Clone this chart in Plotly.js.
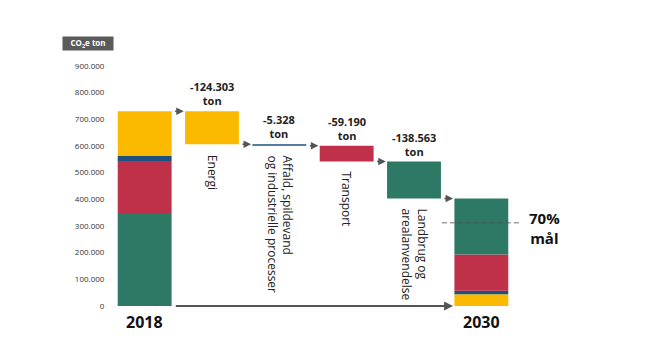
<!DOCTYPE html>
<html>
<head>
<meta charset="utf-8">
<script src="https://cdn.plot.ly/plotly-3.0.1.min.js"></script>
<style>html,body{margin:0;padding:0;background:#fff;}#chart{width:650px;height:360px;}</style>
</head>
<body>
<div id="chart"></div>
<script>
// ---- data ----
const sectorLabels = ['Energi', 'Affald, spildevand<br>og industrielle processer', 'Transport', 'Landbrug og<br>arealanvendelse'];
const emissions2018 = [168000, 18500, 195000, 349000];
const reductions = [124303, 5328, 59190, 138563];
const yearLabels = ['2018', '2030'];
const targetValue = 312000;
const targetLabel = '70%<br>mål';
const unitLabel = 'CO<sub>2</sub>e ton';
const tickValues = [0, 100000, 200000, 300000, 400000, 500000, 600000, 700000, 800000, 900000];

// ---- styles ----
const colors = ['#FBBA00', '#1C5180', '#BE3149', '#2E7866'];
const FONT = '"Open Sans", "Noto Sans", sans-serif';
const ARROW = '#555555';

// ---- derived ----
const emissions2030 = emissions2018.map((v, i) => v - reductions[i]);
const total2018 = emissions2018.reduce((a, b) => a + b, 0);
const order2018 = [3, 2, 1, 0]; // bottom-up
const order2030 = [0, 1, 2, 3];
const base2018 = [], base2030 = [], floatBase = [];
let acc = 0;
order2018.forEach(i => { base2018[i] = acc; acc += emissions2018[i]; });
acc = 0;
order2030.forEach(i => { base2030[i] = acc; acc += emissions2030[i]; });
let level = total2018;
const levelsTop = [];
reductions.forEach((r, i) => { levelsTop[i] = level; floatBase[i] = level - r; level -= r; });
const lastX = sectorLabels.length + 1;

const fmt = n => n.toString().replace(/\B(?=(\d{3})+(?!\d))/g, '.');

const traces = sectorLabels.map((name, i) => ({
  type: 'bar',
  x: [0, i + 1, lastX],
  y: [emissions2018[i], reductions[i], emissions2030[i]],
  base: [base2018[i], floatBase[i], base2030[i]],
  width: 0.8,
  marker: {color: colors[i], line: {width: 0}},
  hoverinfo: 'skip',
  showlegend: false
}));

const annotations = [];
// value labels & category labels
sectorLabels.forEach((lab, i) => {
  annotations.push({
    x: i + 1, y: levelsTop[i], xref: 'x', yref: 'y',
    text: '<b>-' + fmt(reductions[i]) + '<br>ton</b>',
    showarrow: false, yanchor: 'bottom', xanchor: 'center', yshift: 1,
    font: {family: FONT, size: 11, color: '#222'}
  });
  annotations.push({
    x: i + 1, y: floatBase[i], xref: 'x', yref: 'y',
    text: lab, textangle: 90, align: 'left',
    showarrow: false, yanchor: 'top', xanchor: 'center', yshift: -8,
    font: {family: FONT, size: 12, color: '#222'}
  });
});
// year labels
[0, lastX].forEach((xv, k) => {
  annotations.push({
    x: xv, y: 0, xref: 'x', yref: 'y', text: '<b>' + yearLabels[k] + '</b>',
    showarrow: false, yanchor: 'top', xanchor: 'center', yshift: -3,
    font: {family: FONT, size: 16, color: '#111'}
  });
});
// step arrows
const arrowLevels = [total2018].concat(floatBase);
arrowLevels.forEach((lv, k) => {
  annotations.push({
    x: k + 0.58, y: lv, ax: k + 0.43, ay: lv, axref: 'x', ayref: 'y', xref: 'x', yref: 'y',
    text: '', showarrow: true, arrowhead: 2, arrowsize: 1, arrowwidth: 1.5, arrowcolor: ARROW, standoff: 0, startstandoff: 0
  });
});
// long bottom arrow
annotations.push({
  x: lastX - 0.42, y: 0, ax: 0.44, ay: 0, axref: 'x', ayref: 'y', xref: 'x', yref: 'y',
  text: '', showarrow: true, arrowhead: 2, arrowsize: 1, arrowwidth: 1.8, arrowcolor: ARROW, standoff: 0
});
// target label
annotations.push({
  x: 1.03, y: targetValue, xref: 'paper', yref: 'y', text: '<b>' + targetLabel + '</b>',
  showarrow: false, xanchor: 'left', yanchor: 'middle', yshift: -5, align: 'center',
  font: {family: FONT, size: 15, color: '#111'}
});
// unit box
annotations.push({
  x: -0.057, y: 1.094, xref: 'paper', yref: 'paper', text: '<b>' + unitLabel + '</b>',
  showarrow: false, xanchor: 'center', yanchor: 'middle', width: 50, height: 13,
  bgcolor: '#5a5a5a', borderpad: 0,
  font: {family: FONT, size: 8, color: '#fff'}
});

const layout = {
  width: 650, height: 360,
  margin: {l: 111, r: 135, t: 66, b: 54},
  paper_bgcolor: '#fff', plot_bgcolor: '#fff',
  barmode: 'overlay',
  separators: ',.',
  showlegend: false,
  xaxis: {range: [-0.5, lastX + 0.5], visible: false, fixedrange: true},
  yaxis: {
    range: [0, 900000], tickvals: tickValues, tickformat: ',', showgrid: false, zeroline: false,
    showline: false, ticks: 'outside', ticklen: 4, tickcolor: 'rgba(0,0,0,0)',
    tickfont: {family: FONT, size: 8, color: '#333'}, fixedrange: true
  },
  shapes: [{
    type: 'line', xref: 'paper', yref: 'y', x0: 0.819, x1: 1.017, y0: targetValue, y1: targetValue,
    line: {color: 'rgba(80,80,80,0.55)', width: 1.5, dash: '5px,3px'}, layer: 'above'
  }],
  annotations: annotations
};

Plotly.newPlot('chart', traces, layout, {displayModeBar: false, staticPlot: true});
</script>
</body>
</html>
